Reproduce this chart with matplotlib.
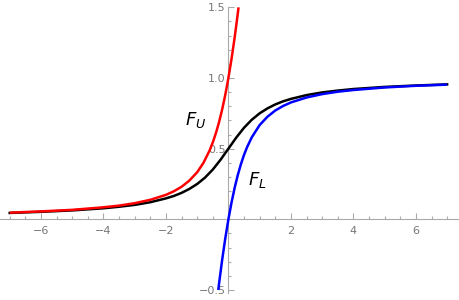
import numpy as np
import matplotlib
matplotlib.use('Agg')
import matplotlib.pyplot as plt
from matplotlib.ticker import FixedLocator, MultipleLocator

# values
x_black = [-7, -6, -5, -4, -3.5, -3, -2.5, -2, -1.75, -1.5, -1.25, -1, -0.75, -0.5, -0.25,
           0, 0.25, 0.5, 0.75, 1, 1.25, 1.5, 1.75, 2, 2.5, 3, 3.5, 4, 5, 6, 7]
y_black = [0.045, 0.053, 0.063, 0.078, 0.089, 0.102, 0.121, 0.148, 0.165, 0.187, 0.215, 0.25, 0.295, 0.352, 0.422,
           0.5, 0.578, 0.648, 0.705, 0.75, 0.785, 0.813, 0.835, 0.852, 0.879, 0.898, 0.911, 0.922, 0.937, 0.947, 0.955]

x_upper = [-7, -6, -5, -4, -3.5, -3, -2.5, -2, -1.75, -1.5, -1.25, -1, -0.8, -0.6, -0.5, -0.4, -0.3,
           -0.2, -0.1, 0, 0.1, 0.2, 0.25, 0.3, 0.325]
y_upper = [0.047, 0.056, 0.067, 0.085, 0.097, 0.114, 0.138, 0.173, 0.198, 0.230, 0.274, 0.333, 0.399, 0.488,
           0.544, 0.610, 0.687, 0.777, 0.881, 1.0, 1.135, 1.287, 1.370, 1.456, 1.50]

x_lower = [-0.325, -0.3, -0.2, -0.1, 0, 0.1, 0.2, 0.3, 0.4, 0.5, 0.6, 0.75, 1, 1.25, 1.5, 1.75, 2,
           2.5, 3, 3.5, 4, 5, 6, 7]
y_lower = [-0.5, -0.456, -0.287, -0.135, 0.0, 0.119, 0.223, 0.313, 0.390, 0.456, 0.512, 0.581, 0.667,
           0.726, 0.770, 0.802, 0.827, 0.862, 0.886, 0.903, 0.915, 0.933, 0.945, 0.953]

x_major = [-6, -4, -2, 2, 4, 6]
y_major = [-0.5, 0.5, 1.0, 1.5]

plt.rcParams['mathtext.fontset'] = 'dejavusans'

fig = plt.figure(figsize=(4.59, 3.0), dpi=100)
ax = fig.add_axes([0, 0, 1, 1])

# black first, bounds drawn on top of it
ax.plot(x_black, y_black, color='black', lw=1.8)
ax.plot(x_upper, y_upper, color='#ff0000', lw=1.8, solid_capstyle='butt')
ax.plot(x_lower, y_lower, color='#0000ff', lw=1.8, solid_capstyle='butt')

ax.set_xlim(-7.31, 7.38)
ax.set_ylim(-0.571, 1.552)

axis_col = '#aaaaaa'
for side in ['top', 'right']:
    ax.spines[side].set_visible(False)
ax.spines['left'].set_position(('data', 0))
ax.spines['bottom'].set_position(('data', 0))
ax.spines['left'].set_bounds(-0.52, 1.505)
for side in ['left', 'bottom']:
    ax.spines[side].set_color(axis_col)
    ax.spines[side].set_linewidth(0.8)
    ax.spines[side].set_zorder(0.5)

ax.xaxis.set_major_locator(FixedLocator(x_major))
ax.xaxis.set_minor_locator(MultipleLocator(0.5))
ax.set_xticklabels([f'{v:g}'.replace('-', '\u2212') for v in x_major])
ax.yaxis.set_major_locator(FixedLocator(y_major))
ax.yaxis.set_minor_locator(MultipleLocator(0.1))
ax.set_yticklabels([f'{v:.1f}'.replace('-', '\u2212') for v in y_major])

ax.tick_params(which='both', direction='in', color=axis_col, width=0.8,
               labelcolor='#777777', labelsize=8)
ax.tick_params(which='major', length=4.5)
ax.tick_params(which='minor', length=2.5)
ax.tick_params(axis='x', pad=5)
ax.tick_params(axis='y', pad=2)

ax.text(-1.04, 0.70, r'$F_U$', fontsize=13, ha='center', va='center')
ax.text(0.91, 0.28, r'$F_L$', fontsize=13, ha='center', va='center')

fig.savefig('out.png', dpi=100)
